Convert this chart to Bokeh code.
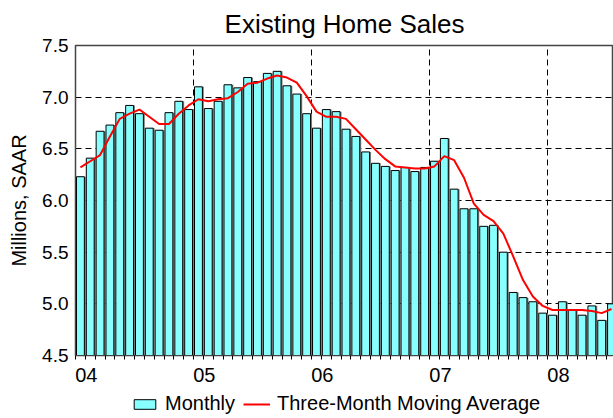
from bokeh.plotting import figure
from bokeh.layouts import column
from bokeh.models import (Range1d, FixedTicker, LinearAxis, Grid, Legend, LegendItem,
                          ColumnDataSource, NumeralTickFormatter)
from bokeh.transform import dodge
from bokeh.embed import file_html
from bokeh.resources import INLINE

# ---- data (Jan 2004 .. Jul 2008), millions SAAR ----
monthly = [6.23, 6.41, 6.67, 6.73, 6.85, 6.92, 6.84, 6.70, 6.68, 6.85, 6.96, 6.88,
           7.10, 6.89, 6.96, 7.12, 7.09, 7.19, 7.15, 7.23, 7.25, 7.11, 7.03, 6.84,
           6.70, 6.88, 6.86, 6.69, 6.62, 6.47, 6.36, 6.33, 6.29, 6.32, 6.28, 6.32,
           6.38, 6.60, 6.11, 5.92, 5.92, 5.75, 5.76, 5.50, 5.11, 5.06, 5.02, 4.91,
           4.89, 5.02, 4.94, 4.89, 4.98, 4.84, 5.00]
moving_avg = [6.32, 6.38, 6.44, 6.62, 6.79, 6.84, 6.88, 6.81, 6.74, 6.74, 6.84, 6.92,
              6.98, 6.96, 6.98, 6.99, 7.05, 7.13, 7.14, 7.18, 7.21, 7.19, 7.14, 7.01,
              6.86, 6.81, 6.81, 6.79, 6.69, 6.59, 6.49, 6.40, 6.33, 6.32, 6.31, 6.31,
              6.33, 6.43, 6.39, 6.22, 5.97, 5.86, 5.80, 5.68, 5.46, 5.23, 5.07, 4.98,
              4.94, 4.94, 4.94, 4.94, 4.93, 4.91, 4.95]
year_labels = ["04", "05", "06", "07", "08"]
y_ticks = [4.5, 5.0, 5.5, 6.0, 6.5, 7.0, 7.5]
legend_labels = ["Monthly", "Three-Month Moving Average"]

month_x = [i + 0.5 for i in range(len(monthly))]
month_edges = list(range(len(monthly) + 1))
year_starts = [12 * k for k in range(len(year_labels))]
label_pos = [12 * k + 1.1 for k in range(len(year_labels))]

src = ColumnDataSource(dict(x=month_x, y=monthly, ma=moving_avg))

FONT = "Liberation Sans"
BAR_FILL = "#88FFFF"
LINE_COLOR = "#FF0000"

p = figure(frame_width=538, frame_height=310, output_backend="svg", toolbar_location=None,
           x_range=Range1d(0, 54.7), y_range=Range1d(4.5, 7.5),
           x_axis_location=None, y_axis_location=None,
           min_border_left=75, min_border_right=0, min_border_top=45, min_border_bottom=35,
           title="Existing Home Sales")
p.center = [r for r in p.center if not isinstance(r, Grid)]
p.title.text_font = FONT
p.title.text_font_size = "26px"
p.title.text_font_style = "normal"
p.title.text_color = "black"
p.title.align = "center"
p.title.standoff = 13
p.outline_line_color = "#444444"
p.outline_line_width = 1.5
p.background_fill_color = "white"
p.border_fill_color = "white"

# grids
hgrid = Grid(dimension=1, ticker=FixedTicker(ticks=y_ticks), grid_line_color="black",
             grid_line_dash="6 4", grid_line_width=1)
vgrid = Grid(dimension=0, ticker=FixedTicker(ticks=year_starts[1:]), grid_line_color="black",
             grid_line_dash="6 4", grid_line_width=1)
p.add_layout(hgrid)
p.add_layout(vgrid)

# bars (shadow + main)
p.vbar(x=dodge("x", 0.15, range=p.x_range), top="y", bottom=4.5, width=0.8, source=src,
       fill_color="#7f7f7f", line_color=None)
bars = p.vbar(x="x", top="y", bottom=4.5, width=0.8, source=src,
              fill_color=BAR_FILL, line_color="black", line_width=1)
line = p.line(x="x", y="ma", source=src, line_color=LINE_COLOR, line_width=2)

# y axis
yax = LinearAxis(ticker=FixedTicker(ticks=y_ticks), axis_label="Millions, SAAR",
                 formatter=NumeralTickFormatter(format="0.0"))
yax.major_label_text_font = FONT
yax.major_label_text_font_size = "19px"
yax.major_label_text_color = "black"
yax.axis_label_text_font = FONT
yax.axis_label_text_font_size = "20px"
yax.axis_label_text_font_style = "normal"
yax.axis_label_text_color = "black"
yax.axis_line_color = "#444444"
yax.major_tick_in = 0
yax.major_tick_out = 0
yax.minor_tick_line_color = None
yax.major_label_standoff = 7
yax.axis_label_standoff = 9
p.add_layout(yax, "left")

# x axis: year labels (offset into January), month-edge tick marks as minor ticks
xax = LinearAxis(ticker=FixedTicker(ticks=label_pos, minor_ticks=month_edges),
                 major_label_overrides={pos: lab for pos, lab in zip(label_pos, year_labels)})
xax.major_label_text_font = FONT
xax.major_label_text_font_size = "20px"
xax.major_label_text_color = "black"
xax.major_tick_line_color = None
xax.major_tick_out = 4
xax.major_tick_in = 0
xax.minor_tick_out = 4
xax.minor_tick_in = 0
xax.minor_tick_line_color = "black"
xax.axis_line_color = "#444444"
xax.major_label_standoff = 8
p.add_layout(xax, "below")

# legend strip below the chart (same data source, viewed outside its range so only the legend shows)
p2 = figure(width=613, height=28, output_backend="svg", toolbar_location=None,
            x_range=Range1d(-3, -2), y_range=Range1d(0, 1),
            x_axis_location=None, y_axis_location=None, min_border=0)
p2.center = [r for r in p2.center if not isinstance(r, Grid)]
p2.outline_line_color = None
p2.background_fill_color = "white"
p2.border_fill_color = "white"
leg_bar = p2.vbar(x="x", top="y", bottom=4.5, width=0.8, source=src,
                  fill_color=BAR_FILL, line_color="black", line_width=1)
leg_line = p2.line(x="x", y="ma", source=src, line_color=LINE_COLOR, line_width=2)

legend = Legend(items=[LegendItem(label=legend_labels[0], renderers=[leg_bar]),
                       LegendItem(label=legend_labels[1], renderers=[leg_line])],
                orientation="horizontal", location=(56, 3))
legend.label_text_font = FONT
legend.label_text_font_size = "20px"
legend.label_text_color = "black"
legend.border_line_color = None
legend.background_fill_alpha = 0
legend.padding = 0
legend.margin = 0
legend.spacing = 8
legend.glyph_width = 27
legend.glyph_height = 12
legend.label_standoff = 7
legend.label_height = 18
p2.add_layout(legend)

layout = column(p, p2, spacing=0)

open("out.html", "w").write(file_html(layout, INLINE))
